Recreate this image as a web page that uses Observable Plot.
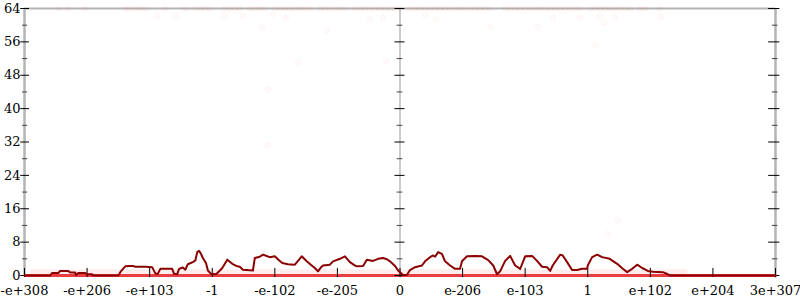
<!DOCTYPE html>
<html>
<head>
<meta charset="utf-8">
<script src="https://cdn.jsdelivr.net/npm/d3@7"></script>
<script src="https://cdn.jsdelivr.net/npm/@observablehq/plot@0.6"></script>
<style>
  html, body { margin: 0; padding: 0; background: white; }
</style>
</head>
<body>
<div id="chart"></div>
<script>
// x positions are in "tick units": -6 .. 6, one unit per labelled tick
const tickPositions = [-6, -5, -4, -3, -2, -1, 0, 1, 2, 3, 4, 5, 6];
const tickLabels = ["-e+308", "-e+206", "-e+103", "-1", "-e-102", "-e-205", "0",
                    "e-206", "e-103", "1", "e+102", "e+204", "3e+307"];
const yMajorTicks = [0, 8, 16, 24, 32, 40, 48, 56, 64];
const yMinorTicks = [4, 12, 20, 28, 36, 44, 52, 60];

// dark red line series
const lineX = [-6.0, -5.59, -5.56, -5.46, -5.43, -5.30, -5.27, -5.19, -5.18, -5.14, -5.03, -5.00, -4.92, -4.90,
  -4.50, -4.46, -4.39, -4.31, -4.27, -4.23, -4.07, -3.96, -3.91, -3.87, -3.83, -3.64, -3.61, -3.56, -3.53,
  -3.47, -3.43, -3.39, -3.31, -3.27, -3.24, -3.21, -3.18, -3.15, -3.10, -3.07, -3.02, -2.94, -2.89, -2.84,
  -2.76, -2.68, -2.60, -2.56, -2.51, -2.35, -2.32, -2.24, -2.19, -2.12, -2.08, -2.00, -1.93, -1.88, -1.79,
  -1.68, -1.63, -1.57, -1.49, -1.42, -1.36, -1.31, -1.26, -1.23, -1.12, -1.07, -0.96, -0.88, -0.80, -0.73,
  -0.69, -0.59, -0.53, -0.43, -0.35, -0.27, -0.21, -0.16, -0.08, -0.03, 0, 0.05, 0.11, 0.16, 0.24, 0.35,
  0.40, 0.48, 0.53, 0.56, 0.61, 0.67, 0.72, 0.80, 0.88, 0.96, 0.99, 1.07, 1.20, 1.31, 1.41, 1.49, 1.55,
  1.60, 1.68, 1.76, 1.84, 1.92, 2.00, 2.11, 2.19, 2.27, 2.35, 2.40, 2.44, 2.56, 2.60, 2.67, 2.75, 2.83,
  2.91, 2.99, 3.00, 3.07, 3.15, 3.23, 3.35, 3.47, 3.56, 3.63, 3.71, 3.79, 3.87, 3.96, 4.04, 4.20, 4.28,
  4.31, 6.0];
const lineY = [0, 0, 0.6, 0.6, 1.1, 1.1, 0.7, 0.7, 0.1, 0.6, 0.6, 0.3, 0.3, 0,
  0, 1.0, 2.2, 2.3, 2.3, 2.1, 2.1, 2.0, 0.5, 0.4, 1.6, 1.6, 0.4, 0.3, 1.6,
  1.9, 1.4, 2.7, 3.2, 3.6, 5.6, 5.9, 5.2, 4.2, 3.0, 1.2, 0.4, 0.3, 1.0, 1.8,
  3.8, 2.8, 2.2, 2.1, 1.4, 1.2, 4.2, 4.5, 5.0, 4.6, 4.4, 4.6, 3.6, 3.0, 2.7,
  2.6, 3.5, 4.6, 3.4, 2.5, 1.8, 1.0, 2.0, 2.4, 2.6, 3.4, 4.0, 4.6, 3.2, 2.5,
  2.2, 2.3, 3.8, 3.5, 4.0, 4.2, 3.9, 3.4, 2.3, 1.2, 0.8, 0.1, 0.1, 1.3, 2.0, 2.4,
  3.4, 4.4, 4.8, 4.5, 5.6, 5.2, 3.4, 2.4, 1.6, 1.6, 3.4, 4.6, 4.7, 4.6, 3.7, 2.4, 0.3,
  1.0, 3.5, 4.7, 2.4, 1.6, 4.6, 4.7, 3.5, 2.1, 2.0, 1.1, 2.4, 5.0, 4.8, 3.2, 1.3, 1.3,
  1.6, 1.6, 2.4, 4.4, 5.0, 4.4, 4.0, 2.8, 1.6, 0.8, 1.6, 2.6, 1.8, 1.1, 0.9, 0.8, 0.3,
  0, 0];

// faint sample dots along the top (value 64)
const topDotX = [-5.46, -5.30, -5.03, -4.39, -4.31, -4.23, -4.15, -4.07, -3.75, -3.43, -3.27, -3.19, -3.12,
  -3.04, -2.80, -2.72, -2.64, -2.56, -2.40, -2.32, -2.24, -2.16, -2.00, -1.92, -1.84, -1.76, -1.68, -1.60,
  -1.52, -1.44, -1.28, -1.20, -1.12, -1.04, -0.96, -0.88, -0.72, -0.64, -0.56, -0.48, -0.40, -0.32, -0.24,
  -0.16, -0.08, 0, 0.16, 0.24, 0.32, 0.40, 0.48, 0.56, 0.64, 0.72, 0.80, 0.88, 0.96, 1.04, 1.12, 1.20,
  1.28, 1.36, 1.44, 1.68, 1.76, 1.84, 1.92, 2.00, 2.08, 2.16, 2.24, 2.32, 2.40, 2.48, 2.56, 2.64, 2.72,
  2.80, 2.88, 3.04, 3.12, 3.20, 3.28, 3.36, 3.44, 3.52, 3.60, 3.68, 3.83, 3.91, 4.15];
const topDotValue = 64;

// scattered faint dots
const scatterX = [-3.88, -3.58, -2.81, -2.51, -2.20, -2.12, -2.11, -2.03, -1.82, -1.63, -1.17, -0.48, -0.27,
  -0.22, 0.40, 0.58, 1.45, 2.20, 2.44, 2.88, 3.12, 3.19, 3.27, 3.43, 4.17, 3.48, 3.32];
const scatterY = [62.3, 62.4, 62.2, 62.2, 59.5, 31.2, 44.6, 62.6, 61.7, 51.1, 58.8, 61.4, 61.8,
  51.3, 62.4, 61.4, 59.7, 59.7, 61.8, 61.8, 55.2, 62, 60.6, 61.8, 62, 13.2, 10];

const lineData = lineX.map((x, i) => ({x, y: lineY[i]}));
const topDots = topDotX.map(x => ({x, y: topDotValue}));
const scatterDots = scatterX.map((x, i) => ({x, y: scatterY[i]}));
const labelOf = new Map(tickPositions.map((t, i) => [t, tickLabels[i]]));

const axisGray = "#b4b4b4";

const chart = Plot.plot({
  width: 800,
  height: 300,
  marginTop: 8,
  marginBottom: 25,
  marginLeft: 24,
  marginRight: 25,
  style: {fontFamily: "'DejaVu Serif', serif", fontSize: "13px", background: "white", color: "black", overflow: "visible"},
  x: {domain: [-6, 6]},
  y: {domain: [0, 64]},
  marks: [
    // frame lines
    Plot.ruleY([64], {x1: -6, x2: 6, stroke: axisGray, strokeWidth: 2}),
    Plot.ruleX([-6], {y1: 0, y2: 64, stroke: axisGray, strokeWidth: 2.5}),
    Plot.ruleX([6], {y1: -0.6, y2: 64, stroke: axisGray, strokeWidth: 2.5}),
    Plot.ruleX([0], {y1: -0.6, y2: 64, stroke: "#999", strokeWidth: 1}),

    // faint sample dots
    Plot.ruleY([0.9], {x1: -5.9, x2: 4.6, stroke: "red", strokeOpacity: 0.07, strokeWidth: 5}),
    Plot.dot(topDots, {x: "x", y: "y", r: 2.5, fill: "red", fillOpacity: 0.02, stroke: "red", strokeOpacity: 0.035}),
    Plot.dot(scatterDots, {x: "x", y: "y", r: 2.5, fill: "red", fillOpacity: 0.01, stroke: "red", strokeOpacity: 0.03}),
    Plot.ruleY([0], {x1: -6, x2: 6, stroke: "#e8282c", strokeOpacity: 0.9, strokeWidth: 3}),

    // left ticks
    Plot.ruleY(yMajorTicks, {x1: -6.06, x2: -5.92, stroke: "black"}),
    Plot.ruleY(yMinorTicks, {x1: -6.03, x2: -5.95, stroke: "#444"}),
    // center ticks
    Plot.ruleY(yMajorTicks, {x1: -0.08, x2: 0.08, stroke: "black"}),
    Plot.ruleY(yMinorTicks, {x1: -0.045, x2: 0.045, stroke: "#444"}),
    // right ticks
    Plot.ruleY(yMajorTicks, {x1: 5.89, x2: 6.07, stroke: "black"}),
    Plot.ruleY(yMinorTicks, {x1: 5.95, x2: 6.04, stroke: "#444"}),
    // bottom ticks
    Plot.ruleX(tickPositions, {y1: -0.5, y2: 1.7, stroke: "black"}),

    // data line
    Plot.line(lineData, {x: "x", y: "y", stroke: "#8b0000", strokeWidth: 2, strokeLinejoin: "round"}),

    // labels
    Plot.axisY(yMajorTicks, {tickSize: 0, tickPadding: 4, label: null}),
    Plot.axisX(tickPositions, {tickSize: 0, tickPadding: 10, label: null, tickFormat: d => labelOf.get(d)})
  ]
});

document.getElementById("chart").appendChild(chart);
</script>
</body>
</html>
